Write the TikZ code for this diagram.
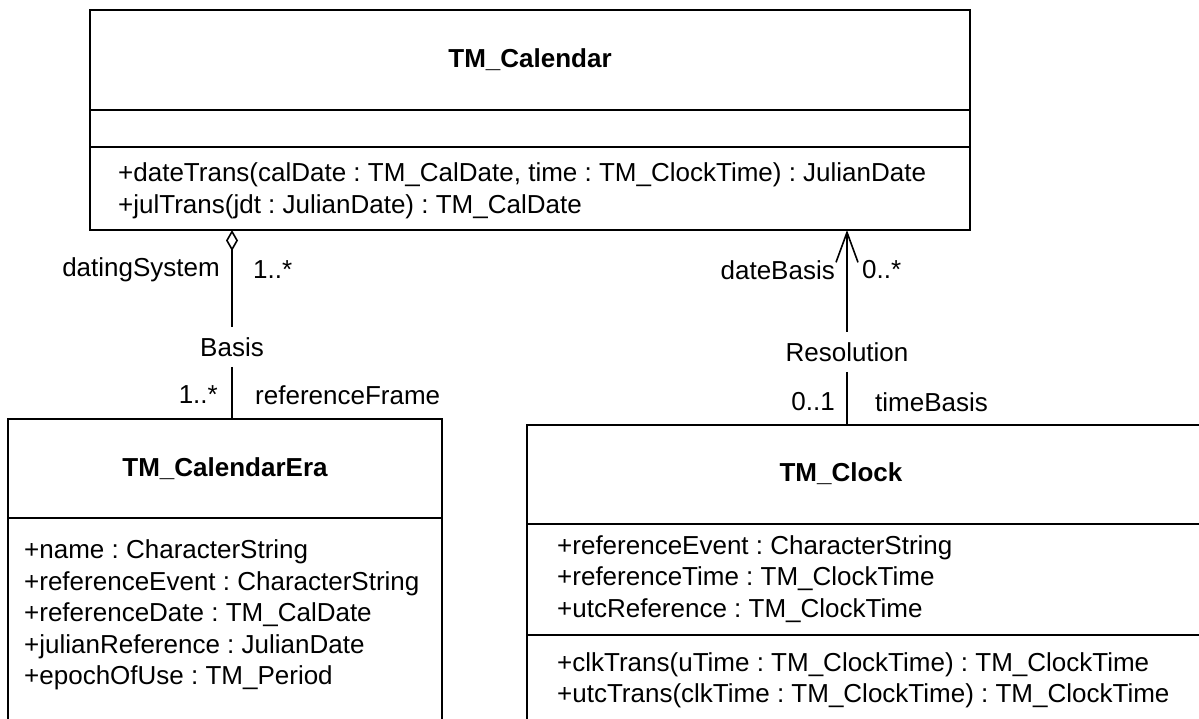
\documentclass[tikz,border=0pt]{standalone}
\usepackage{fontspec}
\setmainfont{Liberation Sans}
\usetikzlibrary{arrows.meta,positioning}
\frenchspacing

\tikzset{
	umlbox/.style={line width=1.6pt},
	umltext/.style={font=\fontsize{26}{31.5}\selectfont, inner sep=0pt, align=left},
	umltitle/.style={font=\fontsize{26}{31.5}\selectfont\bfseries, inner sep=0pt},
	assocname/.style={umltext, inner xsep=0pt, inner ysep=10pt},
	assoc/.style={line width=1.6pt},
}

\begin{document}
\begin{tikzpicture}[x=1pt,y=-1pt]
		%%%%% START %%%%%
		\useasboundingbox (0,0) rectangle (1199,718);
		\clip (0,0) rectangle (1199,718);
		
		% TM_Calendar
		\draw[umlbox] (90,10) rectangle (970,230);
		\draw[umlbox] (90,110) -- (970,110);
		\draw[umlbox] (90,147) -- (970,147);
		\node[umltitle] (calName) at (530,60) {TM\_Calendar};
		\node[umltext, anchor=west] (calOps) at (118,191) {+dateTrans(calDate : TM\_CalDate, time : TM\_ClockTime) : JulianDate\\+julTrans(jdt : JulianDate) : TM\_CalDate};
		
		% TM_CalendarEra
		\draw[umlbox] (8,760) -- (8,419) -- (442,419) -- (442,760);
		\draw[umlbox] (8,518) -- (442,518);
		\node[umltitle] (eraName) at (225,469) {TM\_CalendarEra};
		\node[umltext, anchor=west] (eraAttrs) at (24,615) {+name : CharacterString\\+referenceEvent : CharacterString\\+referenceDate : TM\_CalDate\\+julianReference : JulianDate\\+epochOfUse : TM\_Period};
		
		% TM_Clock
		\draw[umlbox] (527,760) -- (527,425) -- (1250,425);
		\draw[umlbox] (527,524) -- (1250,524);
		\draw[umlbox] (527,635) -- (1250,635);
		\node[umltitle] (clkName) at (841,474) {TM\_Clock};
		\node[umltext, anchor=west] (clkAttrs) at (557,579) {+referenceEvent : CharacterString\\+referenceTime : TM\_ClockTime\\+utcReference : TM\_ClockTime};
		\node[umltext, anchor=west] (clkOps) at (557,680.5) {+clkTrans(uTime : TM\_ClockTime) : TM\_ClockTime\\+utcTrans(clkTime : TM\_ClockTime) : TM\_ClockTime};
		
		% Basis
		\coordinate (calBasis) at (232,230);
		\coordinate (eraTop) at (232,419);
		\node[assocname] (basisLbl) at (232,347) {Basis};
		\draw[assoc, {Diamond[open, length=21pt, width=12pt]}-] (calBasis) -- (basisLbl.north);
		\draw[assoc] (basisLbl.south) -- (eraTop);
		\node[umltext, anchor=east] (datingSys) at (220,270) {datingSystem};
		\node[umltext, anchor=west] (basisMultTop) at (253,270) {1..*};
		\node[umltext, anchor=east] (basisMultBot) at (218,395) {1..*};
		\node[umltext, anchor=west] (refFrame) at (255,395) {referenceFrame};
		
		% Resolution
		\coordinate (calResol) at (847,230);
		\coordinate (clkTop) at (847,425);
		\node[assocname] (resolLbl) at (847,352) {Resolution};
		\draw[assoc, {Straight Barb[length=30pt, width=22pt]}-] (calResol) -- (resolLbl.north);
		\draw[assoc] (resolLbl.south) -- (clkTop);
		\node[umltext, anchor=east] (dateBasis) at (835,270) {dateBasis};
		\node[umltext, anchor=west] (resolMultTop) at (862,270) {0..*};
		\node[umltext, anchor=east] (resolMultBot) at (835,402) {0..1};
		\node[umltext, anchor=west] (timeBasis) at (875,402) {timeBasis};
		%%%%% END %%%%%
\end{tikzpicture}
\end{document}
